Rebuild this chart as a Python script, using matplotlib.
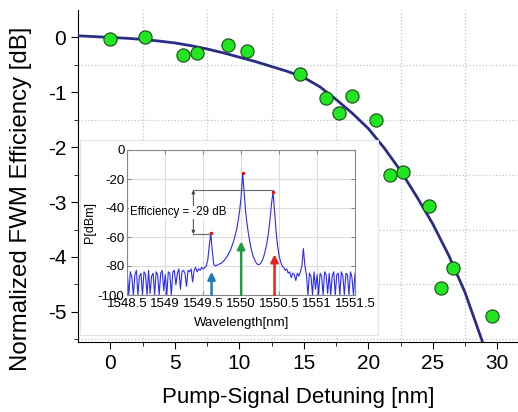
import numpy as np
import matplotlib.pyplot as plt
from matplotlib.patches import Rectangle

plt.rcParams['font.family'] = ['Liberation Sans', 'DejaVu Sans']
plt.rcParams['axes.unicode_minus'] = False

# measured points (main plot)
detuning = [0, 2.7, 5.6, 6.7, 9.1, 10.6, 14.7, 16.7, 17.7, 18.7, 20.6,
            21.7, 22.7, 24.7, 25.6, 26.6, 29.6]
efficiency = [-0.02, 0.0, -0.32, -0.28, -0.14, -0.24, -0.66, -1.11, -1.38,
              -1.06, -1.5, -2.5, -2.45, -3.08, -4.56, -4.2, -5.08]

# fitted curve
fit_x = [-2.5, -1.25, 0, 1.25, 2.5, 3.75, 5, 6.25, 7.5, 8.75, 10, 11.25,
         12.5, 13.75, 15, 16.25, 17.5, 18.75, 20, 21.25, 22.5, 23.75, 25,
         26.25, 27.5, 28.85, 29.5]
fit_y = [0.03, 0.015, 0.0, -0.015, -0.035, -0.065, -0.10, -0.15, -0.21,
         -0.28, -0.36, -0.44, -0.53, -0.62, -0.73, -0.90, -1.13, -1.38,
         -1.66, -2.02, -2.43, -2.90, -3.40, -3.98, -4.65, -5.55, -6.0]

# inset spectrum: power [dBm] sampled every 0.02 nm from 1548.5 nm
wl_start, wl_step = 1548.5, 0.02
power = [
    -85, -100, -84, -88, -100, -86, -83, -100, -87, -85,
    -100, -84, -86, -100, -83, -99, -87, -85, -100, -84,
    -86, -100, -85, -83, -97, -86, -100, -84, -85, -100,
    -84, -83, -93, -85, -82, -96, -84, -83, -85, -94,
    -83, -84, -82, -91, -83, -81, -84, -82, -83, -81,
    -82, -81, -80, -76, -66, -57.5, -70, -79, -80, -79.5,
    -79, -78.5, -78, -77, -76, -74.5, -73, -71, -69, -66,
    -63, -59, -55, -49, -42, -32, -16, -30, -43, -52,
    -59, -65, -70, -73.5, -76, -78, -79, -79, -78, -76,
    -73, -69, -64, -57, -48, -37, -29, -42, -56, -66,
    -73, -77, -80, -81, -83, -82, -85, -84, -88, -85,
    -86, -90, -85, -87, -84, -80, -68, -80, -86, -100,
    -85, -87, -100, -84, -96, -86, -100, -85, -87, -100,
    -84, -86, -99, -85, -100, -87, -84, -100, -86, -85,
    -100, -84, -87, -100, -85, -86, -100, -84, -88, -100, -85,
]
wavelength = [wl_start + wl_step * i for i in range(len(power))]

peak_wl = [1549.60, 1550.02, 1550.42]
peak_p = [-57.5, -16, -29]
arrow_wl = [1549.61, 1550.0, 1550.44]
arrow_top = [-84, -63, -72]
arrow_col = ['#1f7ab8', '#1a9e3f', '#e8231c']

fig = plt.figure(figsize=(5.18, 4.12), dpi=100)

ax = fig.add_axes([78 / 518, 1 - 342 / 412, 1 - 78 / 518, 332 / 412])
ax.plot(fit_x, fit_y, color='#2b2d84', lw=2.0, zorder=3)
ax.plot(detuning, efficiency, 'o', ms=9.5, mfc='#22e622', mec='#1a4a1a',
        mew=0.8, zorder=4)
ax.set_xlim(-2.5, 31.6)
ax.set_ylim(-5.55, 0.5)
ax.set_xticks(range(0, 31, 5))
ax.set_xticks(np.arange(2.5, 31, 5), minor=True)
ax.set_yticks(range(0, -6, -1))
ax.set_yticks(np.arange(-0.5, -5.6, -1), minor=True)
ax.grid(which='minor', ls=':', color='#c4c4c4', lw=0.9)
for s in ['top', 'right']:
    ax.spines[s].set_visible(False)
ax.tick_params(which='major', direction='out', length=5, labelsize=15)
ax.tick_params(which='minor', direction='out', length=3)
ax.set_xlabel('Pump-Signal Detuning [nm]', fontsize=16, labelpad=10)
ax.set_ylabel('Normalized FWM Efficiency [dB]', fontsize=17.3)
ax.yaxis.set_label_coords(-0.105, 0.43)

# white box behind the inset
box = Rectangle((80 / 518, 1 - 335 / 412), 298 / 518, 195 / 412,
                transform=fig.transFigure, facecolor='white',
                edgecolor='#e4e4e4', lw=0.8, zorder=1)
fig.add_artist(box)

ins = fig.add_axes([127.3 / 518, 1 - 295 / 412, 227.7 / 518, 145 / 412])
ins.set_zorder(2)
ins.plot(wavelength, power, color='#2a2aff', lw=0.8)
ins.plot(peak_wl, peak_p, 'o', ms=1.5, color='red')
ins.set_xlim(1548.5, 1551.5)
ins.set_ylim(-100, 0)
ins.set_xticks([1548.5, 1549, 1549.5, 1550, 1550.5, 1551, 1551.5])
ins.set_xticklabels(['1548.5', '1549', '1549.5', '1550', '1550.5', '1551',
                     '1551.5'])
ins.set_yticks(range(-100, 1, 20))
ins.grid(color='#dcdcdc', lw=0.8)
ins.tick_params(direction='in', length=3, color='#888888', labelsize=9.5,
                pad=2, top=True, right=True)
for s in ins.spines.values():
    s.set_color('#888888')
    s.set_linewidth(0.8)
ins.set_xlabel('Wavelength[nm]', fontsize=9.5, labelpad=5)
ins.set_ylabel('P[dBm]', fontsize=9, labelpad=1)

for w, t, c in zip(arrow_wl, arrow_top, arrow_col):
    ins.annotate('', xy=(w, t), xytext=(w, -100),
                 arrowprops=dict(arrowstyle='-|>', color=c, lw=1.8,
                                 mutation_scale=11, shrinkA=0, shrinkB=0))

# efficiency annotation
ins.plot([1549.37, 1550.42], [-27.6, -27.6], color='#666666', lw=0.8)
ins.plot([1549.37, 1549.60], [-58, -58], color='#666666', lw=0.8)
ins.annotate('', xy=(1549.37, -27.6), xytext=(1549.37, -58),
             arrowprops=dict(arrowstyle='<|-|>', color='#444444', lw=0.7,
                             mutation_scale=5, shrinkA=0, shrinkB=0))
ins.text(1549.17, -43, 'Efficiency = -29 dB', fontsize=8.3, ha='center',
         va='center', bbox=dict(facecolor='white', edgecolor='none', pad=0.5))

fig.savefig('out.png', dpi=100)
